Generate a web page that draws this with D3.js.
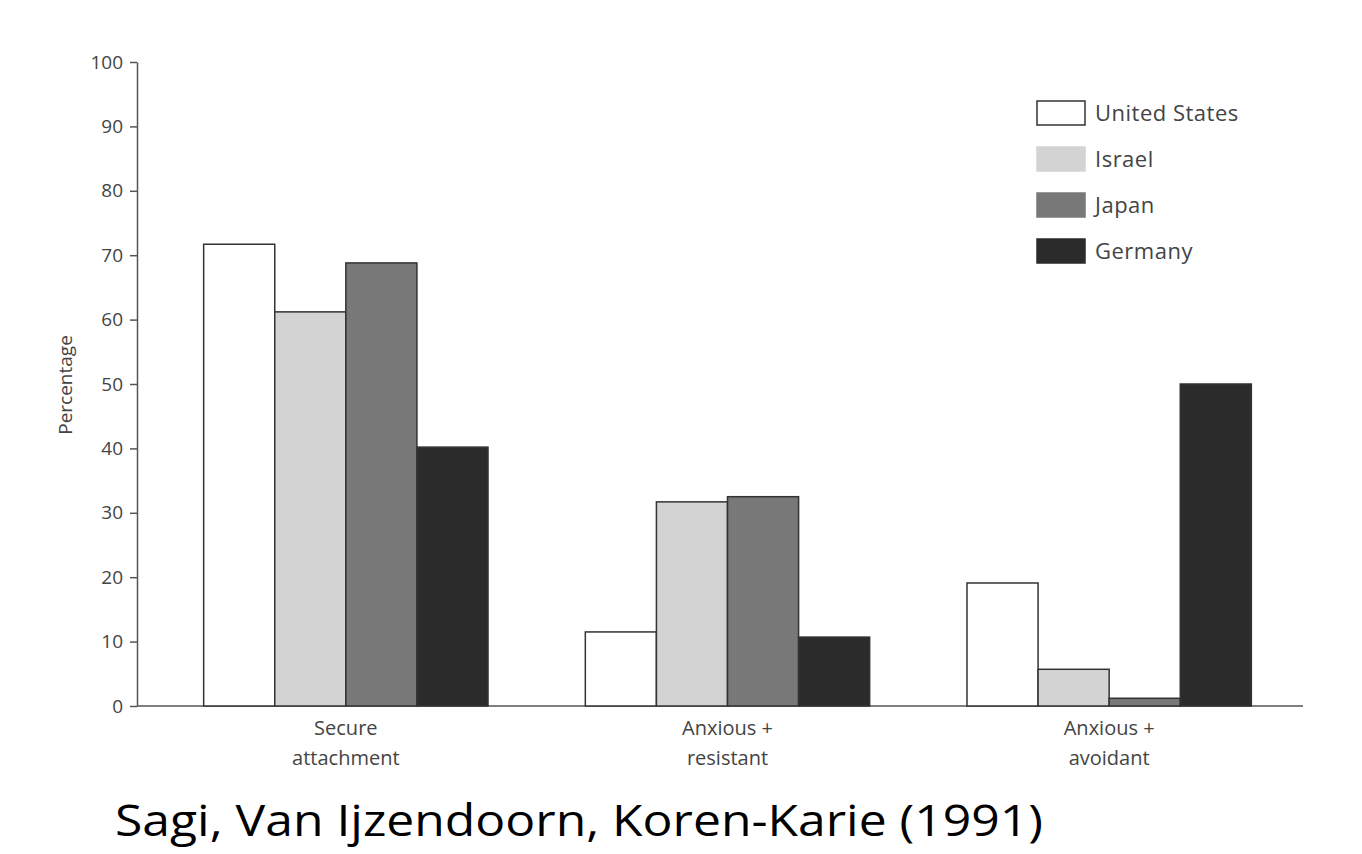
<!DOCTYPE html>
<html>
<head>
<meta charset="utf-8">
<script src="https://cdn.jsdelivr.net/npm/d3@7"></script>
<style>
  body { margin: 0; background: #fff; }
  text { font-family: "Open Sans", "Noto Sans", sans-serif; }
</style>
</head>
<body>
<svg id="chart" width="1362" height="854"></svg>
<script>
const categories = [["Secure", "attachment"], ["Anxious +", "resistant"], ["Anxious +", "avoidant"]];
const countries = ["United States", "Israel", "Japan", "Germany"];
const values = [
  [71.7, 61.2, 68.8, 40.2],
  [11.5, 31.7, 32.5, 10.7],
  [19.1, 5.7, 1.2, 50]
];
const yTicks = [0, 10, 20, 30, 40, 50, 60, 70, 80, 90, 100];
const fills = ["#ffffff", "#d3d3d3", "#787878", "#2b2b2b"];

const svg = d3.select("#chart");
const y = d3.scaleLinear().domain([0, 100]).range([706, 62]);
const x0 = d3.scaleBand().domain(d3.range(categories.length)).range([155, 1300])
  .paddingInner(0.255).paddingOuter(0.1275);
const x1 = d3.scaleBand().domain(d3.range(countries.length)).range([0, x0.bandwidth()]);

// y axis
const yAxis = svg.append("g").attr("transform", "translate(137,0)")
  .call(d3.axisLeft(y).tickValues(yTicks).tickSize(7).tickSizeOuter(0));
yAxis.select(".domain").attr("stroke", "#555").attr("stroke-width", 1.5);
yAxis.selectAll(".tick line").attr("stroke", "#555").attr("stroke-width", 1.5);
yAxis.selectAll(".tick text").attr("font-size", 19).attr("fill", "#444").attr("dx", -4);

// x axis line
svg.append("line").attr("x1", 137).attr("x2", 1303).attr("y1", y(0)).attr("y2", y(0))
  .attr("stroke", "#555").attr("stroke-width", 1.5);

// bars
values.forEach((row, ci) => {
  row.forEach((v, si) => {
    svg.append("rect")
      .attr("x", x0(ci) + x1(si))
      .attr("y", y(v))
      .attr("width", x1.bandwidth())
      .attr("height", y(0) - y(v))
      .attr("fill", fills[si])
      .attr("stroke", "#333").attr("stroke-width", 1.5);
  });
  const t = svg.append("text").attr("text-anchor", "middle").attr("font-size", 20).attr("fill", "#444");
  categories[ci].forEach((line, li) => {
    t.append("tspan").attr("x", x0(ci) + x0.bandwidth() / 2).attr("y", 735 + li * 30).text(line);
  });
});

// y label
svg.append("text").attr("transform", "translate(72,385) rotate(-90)")
  .attr("text-anchor", "middle").attr("font-size", 19).attr("fill", "#444").text("Percentage");

// legend
countries.forEach((c, i) => {
  const ly = 101 + i * 46;
  svg.append("rect").attr("x", 1037).attr("y", ly).attr("width", 48).attr("height", 24)
    .attr("fill", fills[i]).attr("stroke", i === 0 ? "#333" : fills[i]).attr("stroke-width", 1.5);
  svg.append("text").attr("x", 1095).attr("y", ly + 20).attr("font-size", 22).attr("fill", "#444")
    .attr("letter-spacing", 0.5).text(c);
});

// caption
svg.append("text").attr("x", 115).attr("y", 836).attr("font-size", 44).attr("fill", "#000")
  .attr("textLength", 928).attr("lengthAdjust", "spacingAndGlyphs")
  .text("Sagi, Van Ijzendoorn, Koren-Karie (1991)");
</script>
</body>
</html>
